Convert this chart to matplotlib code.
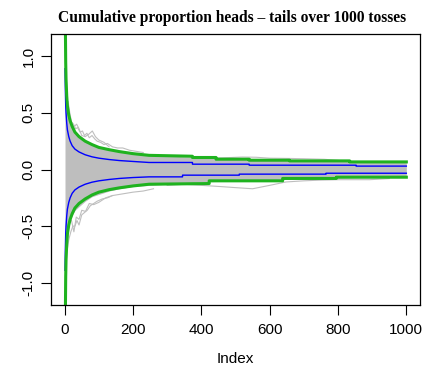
import matplotlib
matplotlib.use("Agg")
import matplotlib.pyplot as plt
import numpy as np

plt.rcParams['font.family'] = ['Liberation Sans', 'DejaVu Sans']
plt.rcParams['axes.unicode_minus'] = False

# dense envelope of the simulated walks
env_n = [1, 2, 3, 5, 8, 12, 20, 30, 45, 60, 80, 100, 130, 160, 200, 250,
         300, 400, 500, 600, 700, 800, 900, 1000]
env_hi = [1.0, 1.0, 1.0, 0.8, 0.6, 0.5, 0.4, 0.33, 0.3, 0.26, 0.22, 0.2,
          0.18, 0.16, 0.145, 0.13, 0.12, 0.105, 0.1, 0.09, 0.085, 0.075,
          0.068, 0.062]
env_lo = [-1.0, -1.0, -1.0, -0.8, -0.62, -0.5, -0.42, -0.36, -0.32, -0.28,
          -0.24, -0.22, -0.19, -0.17, -0.15, -0.14, -0.13, -0.11, -0.1,
          -0.09, -0.08, -0.075, -0.068, -0.062]

# stray walks outside the envelope
stray = [
    ([10, 15, 20, 26, 32, 38, 45, 52, 58, 65, 72, 80, 88, 95, 105, 115, 125,
      140, 155, 170, 190, 210, 230],
     [0.6, 0.5, 0.42, 0.4, 0.36, 0.37, 0.33, 0.34, 0.3, 0.32, 0.28, 0.3,
      0.27, 0.25, 0.24, 0.22, 0.23, 0.2, 0.19, 0.19, 0.17, 0.16, 0.15]),
    ([14, 20, 28, 35, 42, 50, 60, 70, 81, 90, 100, 115, 130],
     [0.45, 0.4, 0.38, 0.4, 0.36, 0.3, 0.29, 0.31, 0.34, 0.29, 0.26, 0.24,
      0.2]),
    ([430, 480, 520, 560, 600, 650, 700, 760, 800],
     [0.1, 0.105, 0.11, 0.108, 0.1, 0.098, 0.095, 0.09, 0.08]),
    ([8, 12, 18, 24, 30, 36, 42, 50, 58, 66, 75, 85, 95, 110, 125, 140, 160,
      180, 200, 230, 260],
     [-0.7, -0.62, -0.55, -0.5, -0.5, -0.45, -0.49, -0.4, -0.38, -0.36,
      -0.32, -0.3, -0.28, -0.26, -0.25, -0.23, -0.22, -0.21, -0.2, -0.19,
      -0.17]),
    ([20, 27, 34, 42, 50, 61, 72, 85, 100, 120, 140],
     [-0.45, -0.55, -0.42, -0.44, -0.36, -0.37, -0.3, -0.31, -0.29, -0.25,
      -0.23]),
    ([300, 350, 400, 453, 500, 550, 600, 648, 700, 746, 800, 892, 950],
     [-0.14, -0.13, -0.14, -0.15, -0.16, -0.17, -0.14, -0.11, -0.1, -0.094,
      -0.09, -0.09, -0.08]),
]

# blue band
blue_n = [1, 2, 3, 4, 6, 8, 12, 16, 22, 30, 42, 60, 80, 100, 130, 160, 200,
          247, 374, 374, 540, 540, 853, 853, 1000]
blue_hi = [0.89, 0.7, 0.57, 0.5, 0.41, 0.35, 0.29, 0.25, 0.21, 0.18, 0.155,
           0.13, 0.112, 0.1, 0.088, 0.079, 0.071, 0.062, 0.062, 0.047, 0.047,
           0.038, 0.038, 0.03, 0.03]
blue_lo_n = [1, 2, 3, 4, 6, 8, 12, 16, 22, 30, 42, 60, 80, 100, 130, 160,
             200, 247, 345, 345, 511, 511, 765, 765, 1000]
blue_lo = [-0.89, -0.7, -0.57, -0.5, -0.41, -0.35, -0.29, -0.25, -0.21,
           -0.18, -0.155, -0.13, -0.112, -0.1, -0.088, -0.079, -0.071,
           -0.065, -0.065, -0.05, -0.05, -0.041, -0.041, -0.033, -0.033]

# green band
green_n = [1, 2, 3, 4, 6, 8, 12, 16, 22, 30, 42, 60, 80, 100, 130, 160, 200,
           247, 374, 374, 443, 443, 540, 540, 658, 658, 834, 834, 1000]
green_hi = [2.0, 1.3, 0.95, 0.8, 0.65, 0.56, 0.48, 0.43, 0.38, 0.33, 0.29,
            0.25, 0.22, 0.195, 0.175, 0.158, 0.14, 0.125, 0.117, 0.106,
            0.106, 0.091, 0.091, 0.082, 0.082, 0.076, 0.076, 0.067, 0.067]
green_lo_n = [1, 2, 3, 4, 6, 8, 12, 16, 22, 30, 42, 60, 80, 100, 130, 160,
              200, 247, 423, 423, 638, 638, 795, 795, 1000]
green_lo = [-2.0, -1.3, -0.95, -0.8, -0.66, -0.57, -0.49, -0.44, -0.39,
            -0.34, -0.3, -0.26, -0.225, -0.2, -0.178, -0.162, -0.145, -0.13,
            -0.124, -0.1, -0.1, -0.079, -0.079, -0.068, -0.068]

xticks = [0, 200, 400, 600, 800, 1000]
yticks = [-1.0, -0.5, 0.0, 0.5, 1.0]

fig = plt.figure(figsize=(4.35, 3.71), dpi=100)
ax = fig.add_axes([51 / 435, 66 / 371, 369 / 435, 271 / 371])

gray = '#bebebe'
ax.fill_between(env_n, env_lo, env_hi, color=gray, lw=0)
for xs, ys in stray:
    ax.plot(xs, ys, color=gray, lw=0.8)
ax.plot(blue_n, blue_hi, color='#0000ff', lw=1)
ax.plot(blue_lo_n, blue_lo, color='#0000ff', lw=1)
ax.plot(green_n, green_hi, color='#1fb31f', lw=2.2)
ax.plot(green_lo_n, green_lo, color='#1fb31f', lw=2.2)

ax.set_xlim(-40, 1040)
ax.set_ylim(-1.196, 1.196)
ax.set_xticks(xticks)
ax.set_xticklabels([str(t) for t in xticks])
ax.set_yticks(yticks)
ax.set_yticklabels(['%.1f' % t for t in yticks], rotation=90, va='center')
ax.tick_params(direction='out', length=7, width=0.8, labelsize=11,
               pad=6, colors='black')
ax.tick_params(axis='y', pad=4)
for s in ax.spines.values():
    s.set_linewidth(0.9)
ax.set_xlabel('Index', fontsize=11, labelpad=11)

fig.text(232 / 435, 1 - 17.5 / 371,
         'Cumulative proportion heads \u2013 tails over 1000 tosses',
         ha='center', va='center', fontsize=11.2, fontweight='bold',
         family=['Liberation Serif', 'DejaVu Serif'])

fig.savefig('out.png', dpi=100)
